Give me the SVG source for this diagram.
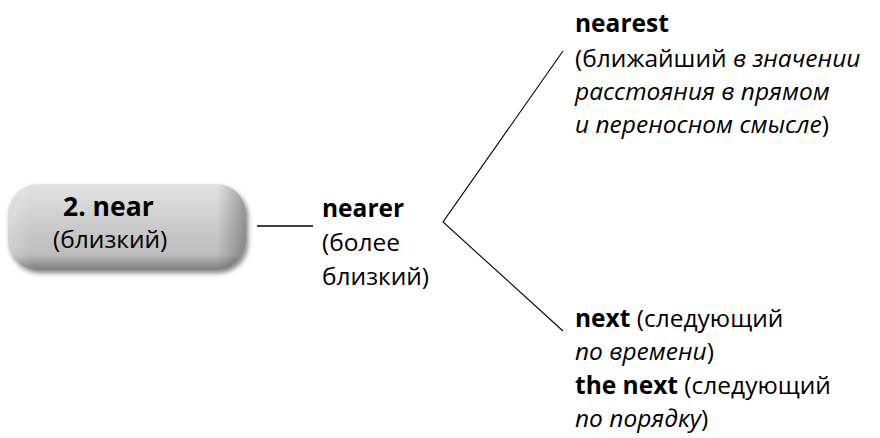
<svg xmlns="http://www.w3.org/2000/svg" width="880" height="438" viewBox="0 0 880 438">
<defs>
<linearGradient id="boxg" x1="0" y1="0" x2="0" y2="1">
<stop offset="0" stop-color="#e2e2e2"/>
<stop offset="0.5" stop-color="#cacaca"/>
<stop offset="0.82" stop-color="#bcbcbc"/>
<stop offset="1" stop-color="#7e7e7e"/>
</linearGradient>
<linearGradient id="boxh" x1="0" y1="0" x2="1" y2="0">
<stop offset="0" stop-color="#ffffff" stop-opacity="0.25"/>
<stop offset="0.1" stop-color="#ffffff" stop-opacity="0"/>
<stop offset="0.88" stop-color="#000000" stop-opacity="0"/>
<stop offset="1" stop-color="#000000" stop-opacity="0.3"/>
</linearGradient>
<filter id="sh" x="-10%" y="-20%" width="125%" height="150%">
<feGaussianBlur in="SourceAlpha" stdDeviation="2.5"/>
<feOffset dx="2" dy="3" result="b"/>
<feComponentTransfer><feFuncA type="linear" slope="0.5"/></feComponentTransfer>
<feMerge><feMergeNode/><feMergeNode in="SourceGraphic"/></feMerge>
</filter>
</defs>
<style>
text{font-family:"Open Sans","Noto Sans",sans-serif;font-size:24.5px;fill:#000}
.b{font-weight:bold}
.i{font-style:italic}
.ln{stroke:#000;stroke-width:1.1;fill:none}
</style>
<g id="near">
<g filter="url(#sh)">
<rect x="8" y="184" width="238" height="86" rx="30" fill="url(#boxg)"/>
<rect x="8" y="184" width="238" height="86" rx="30" fill="url(#boxh)"/>
</g>
<text x="63" y="216" class="b" style="font-size:26.5px">2. near</text>
<text x="53" y="248">(близкий)</text>
</g>
<g id="connectors">
<line class="ln" x1="257" y1="226" x2="313" y2="226" style="stroke-width:1.6"/>
<polyline class="ln" points="563,51 443,222 563,331"/>
</g>
<g id="nearer">
<text x="322" y="217" class="b">nearer</text>
<text x="322" y="251">(более</text>
<text x="322" y="285">близкий)</text>
</g>
<g id="nearest">
<text x="575" y="32" class="b">nearest</text>
<text x="575" y="67">(ближайший <tspan class="i">в значении</tspan></text>
<text x="575" y="100" class="i">расстояния в прямом</text>
<text x="575" y="133"><tspan class="i">и переносном смысле</tspan>)</text>
</g>
<g id="next">
<text x="575" y="327"><tspan class="b">next</tspan> (следующий</text>
<text x="575" y="360"><tspan class="i">по времени</tspan>)</text>
<text x="575" y="394"><tspan class="b">the next</tspan> (следующий</text>
<text x="575" y="427"><tspan class="i">по порядку</tspan>)</text>
</g>
</svg>
